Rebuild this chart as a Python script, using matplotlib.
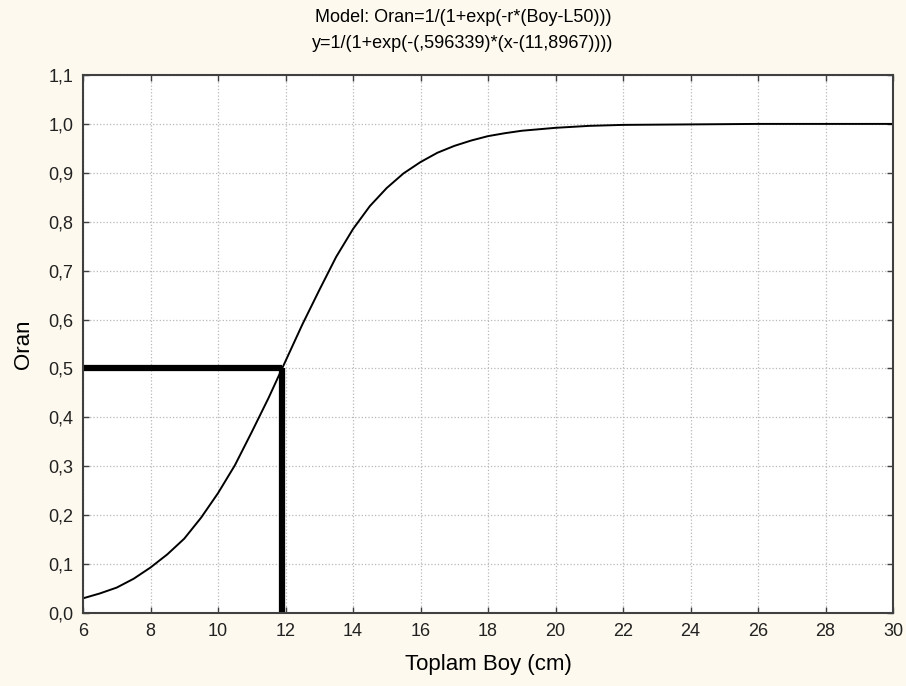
import matplotlib
matplotlib.use("Agg")
import matplotlib.pyplot as plt

# Curve values
boy = [6, 6.5, 7, 7.5, 8, 8.5, 9, 9.5, 10, 10.5, 11, 11.5, 12, 12.5, 13, 13.5,
       14, 14.5, 15, 15.5, 16, 16.5, 17, 17.5, 18, 18.5, 19, 20, 21, 22, 24, 26, 28, 30]
oran = [0.030, 0.040, 0.052, 0.070, 0.093, 0.120, 0.152, 0.195, 0.245, 0.302,
        0.370, 0.440, 0.515, 0.590, 0.660, 0.728, 0.785, 0.832, 0.869, 0.899,
        0.922, 0.941, 0.955, 0.966, 0.975, 0.981, 0.986, 0.992, 0.996, 0.998, 0.999,
        1.0, 1.0, 1.0]

L50 = 11.8967
half = 0.5

xticks = list(range(6, 31, 2))
yticks = [i / 10 for i in range(0, 12)]

plt.rcParams['font.family'] = ['Liberation Sans Narrow', 'Liberation Sans', 'DejaVu Sans']

fig = plt.figure(figsize=(9.06, 6.86), dpi=100, facecolor='#fdf9ee')
ax = fig.add_axes([83 / 906, 1 - 613 / 686, (893 - 83) / 906, (613 - 75) / 686])
ax.set_facecolor('white')

ax.plot(boy, oran, color='black', lw=1.4)
ax.plot([6, L50], [half, half], color='black', lw=4.5, solid_capstyle='butt')
ax.plot([L50, L50], [0, half], color='black', lw=4.5, solid_capstyle='butt', clip_on=False)

ax.set_xlim(6, 30)
ax.set_ylim(0, 1.1)
ax.set_xticks(xticks)
ax.set_yticks(yticks)
ax.set_xticklabels([str(t) for t in xticks])
ax.set_yticklabels([f"{t:.1f}".replace('.', ',') for t in yticks])
ax.tick_params(direction='in', length=4, width=1, color='#404040', labelcolor='#222222',
               labelsize=13, top=True, right=True, pad=7)
ax.grid(True, color='#b8b8b8', linestyle=':', lw=0.9)
for s in ax.spines.values():
    s.set_color('#404040')
    s.set_linewidth(1.5)

ax.set_xlabel("Toplam Boy (cm)", fontsize=16, labelpad=10)
ax.set_ylabel("Oran", fontsize=16, labelpad=10)

fig.text(0.511, 1 - 17 / 686, "Model: Oran=1/(1+exp(-r*(Boy-L50)))",
         ha='center', va='center', fontsize=13)
fig.text(0.511, 1 - 43 / 686, "y=1/(1+exp(-(,596339)*(x-(11,8967))))",
         ha='center', va='center', fontsize=13)

fig.savefig("out.png", dpi=100, facecolor=fig.get_facecolor())
